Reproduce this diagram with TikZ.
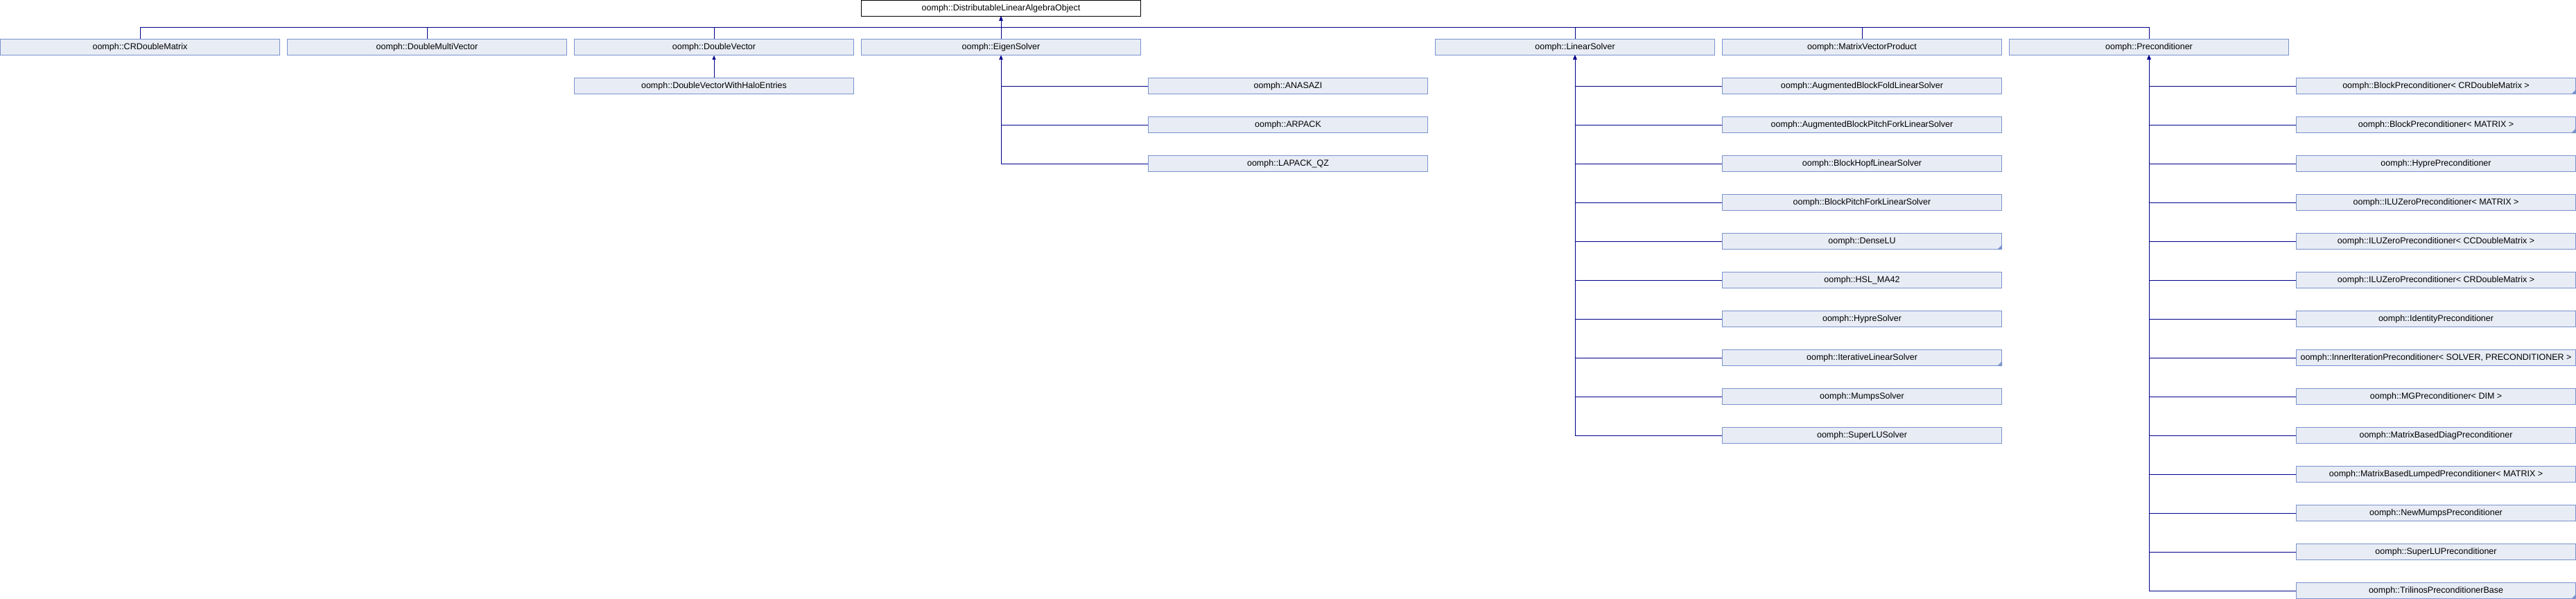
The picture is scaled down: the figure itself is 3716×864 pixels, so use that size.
\documentclass[tikz,border=0pt]{standalone}
\usepackage{fontspec}
\setmainfont{Liberation Sans}
\usetikzlibrary{arrows.meta}
\definecolor{boxfill}{RGB}{232,236,245}
\definecolor{bord}{RGB}{122,146,205}
\definecolor{linec}{RGB}{0,0,140}
\tikzset{
  cls/.style={draw=bord, fill=boxfill, line width=1pt, minimum width=403pt, minimum height=23pt, inner sep=0pt, font=\fontsize{12.5}{14}\selectfont},
  rootbox/.style={cls, fill=white, draw=black},
  conn/.style={draw=linec, line width=0.9pt},
  inh/.style={conn, -{Triangle[width=5pt,length=6pt]}},
  morefill/.style={fill=bord}
}
\newcommand{\cbox}[4]{\node[cls] (#1) at ({414*#2+202},{-(56*#3+12)}) {#4};}
\newcommand{\moremark}[1]{\fill[morefill] (#1.south east) -- ++(0,7) -- ++(-7,-7) -- cycle;}
\begin{document}
\begin{tikzpicture}[x=1pt,y=1pt]
\useasboundingbox (0,0) rectangle (3716,-864);
% root
\node[rootbox] (root) at (1444,-12) {oomph::DistributableLinearAlgebraObject};
% row 1
\cbox{crdm}{0}{1}{oomph::CRDoubleMatrix}
\cbox{dmv}{1}{1}{oomph::DoubleMultiVector}
\cbox{dv}{2}{1}{oomph::DoubleVector}
\cbox{eig}{3}{1}{oomph::EigenSolver}
\cbox{lin}{5}{1}{oomph::LinearSolver}
\cbox{mvp}{6}{1}{oomph::MatrixVectorProduct}
\cbox{pre}{7}{1}{oomph::Preconditioner}
% row 2 under DoubleVector
\cbox{dvh}{2}{2}{oomph::DoubleVectorWithHaloEntries}
% eigen solvers
\cbox{ana}{4}{2}{oomph::ANASAZI}
\cbox{arp}{4}{3}{oomph::ARPACK}
\cbox{lqz}{4}{4}{oomph::LAPACK\_QZ}
% linear solvers
\cbox{ls1}{6}{2}{oomph::AugmentedBlockFoldLinearSolver}
\cbox{ls2}{6}{3}{oomph::AugmentedBlockPitchForkLinearSolver}
\cbox{ls3}{6}{4}{oomph::BlockHopfLinearSolver}
\cbox{ls4}{6}{5}{oomph::BlockPitchForkLinearSolver}
\cbox{ls5}{6}{6}{oomph::DenseLU}
\cbox{ls6}{6}{7}{oomph::HSL\_MA42}
\cbox{ls7}{6}{8}{oomph::HypreSolver}
\cbox{ls8}{6}{9}{oomph::IterativeLinearSolver}
\cbox{ls9}{6}{10}{oomph::MumpsSolver}
\cbox{ls10}{6}{11}{oomph::SuperLUSolver}
% preconditioners
\cbox{pc1}{8}{2}{oomph::BlockPreconditioner< CRDoubleMatrix >}
\cbox{pc2}{8}{3}{oomph::BlockPreconditioner< MATRIX >}
\cbox{pc3}{8}{4}{oomph::HyprePreconditioner}
\cbox{pc4}{8}{5}{oomph::ILUZeroPreconditioner< MATRIX >}
\cbox{pc5}{8}{6}{oomph::ILUZeroPreconditioner< CCDoubleMatrix >}
\cbox{pc6}{8}{7}{oomph::ILUZeroPreconditioner< CRDoubleMatrix >}
\cbox{pc7}{8}{8}{oomph::IdentityPreconditioner}
\cbox{pc8}{8}{9}{oomph::InnerIterationPreconditioner< SOLVER, PRECONDITIONER >}
\cbox{pc9}{8}{10}{oomph::MGPreconditioner< DIM >}
\cbox{pc10}{8}{11}{oomph::MatrixBasedDiagPreconditioner}
\cbox{pc11}{8}{12}{oomph::MatrixBasedLumpedPreconditioner< MATRIX >}
\cbox{pc12}{8}{13}{oomph::NewMumpsPreconditioner}
\cbox{pc13}{8}{14}{oomph::SuperLUPreconditioner}
\cbox{pc14}{8}{15}{oomph::TrilinosPreconditionerBase}
% more-children marks
\moremark{ls5}
\moremark{ls8}
\moremark{pc1}
\moremark{pc2}
\moremark{pc14}
% connectors to root
\foreach \c in {crdm,dmv,dv,eig,lin,mvp,pre}
  \draw[inh] (\c.north) -- ++(0,16.5) -| (root.south);
\draw[inh] (dvh.north) -- (dv.south);
\foreach \c in {ana,arp,lqz}
  \draw[inh] (\c.west) -| (eig.south);
\foreach \c in {ls1,ls2,ls3,ls4,ls5,ls6,ls7,ls8,ls9,ls10}
  \draw[inh] (\c.west) -| (lin.south);
\foreach \c in {pc1,pc2,pc3,pc4,pc5,pc6,pc7,pc8,pc9,pc10,pc11,pc12,pc13,pc14}
  \draw[inh] (\c.west) -| (pre.south);
\end{tikzpicture}
\end{document}
